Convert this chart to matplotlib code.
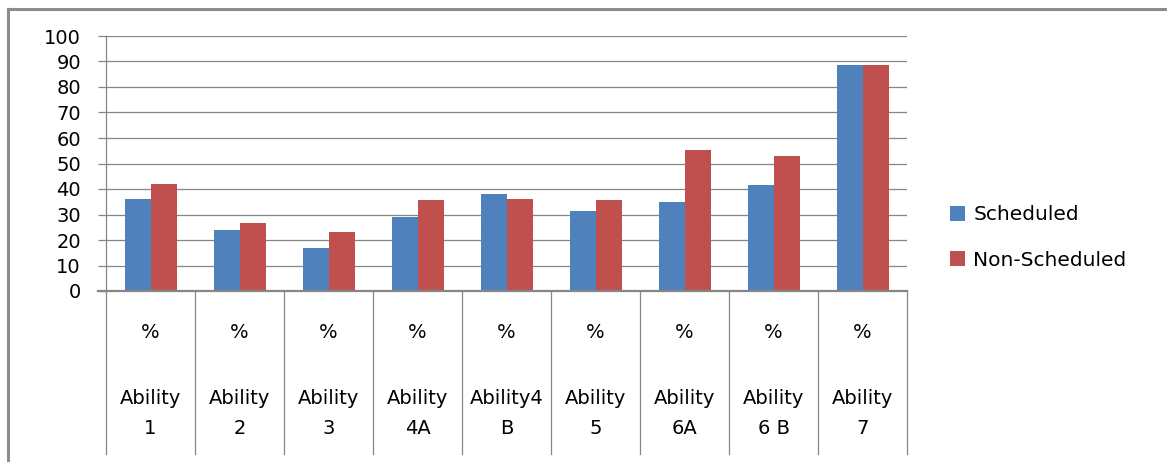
import matplotlib
matplotlib.use("Agg")
import matplotlib.pyplot as plt
from matplotlib.lines import Line2D
from matplotlib.patches import Patch
import numpy as np

plt.rcParams['font.family'] = ['DejaVu Sans']

# Data
categories_top = ["%"] * 9
categories_line1 = ["Ability", "Ability", "Ability", "Ability", "Ability4",
                    "Ability", "Ability", "Ability", "Ability"]
categories_line2 = ["1", "2", "3", "4A", "B", "5", "6A", "6 B", "7"]
scheduled = [36.2, 24.0, 16.7, 29.0, 38.0, 31.5, 35.0, 41.7, 88.6]
non_scheduled = [42.0, 26.8, 23.2, 35.8, 36.2, 35.8, 55.3, 53.0, 88.6]
series_names = ["Scheduled", "Non-Scheduled"]

BLUE = "#4f81bd"
RED = "#c0504d"
GRID = "#868686"
FS = 14

W, H = 1167, 462
fig = plt.figure(figsize=(W / 100, H / 100), dpi=100)

# plot area in pixels: x 106..907, y 36..291
left, right, top, bottom = 106, 907, 36, 291
ax = fig.add_axes([left / W, 1 - bottom / H, (right - left) / W, (bottom - top) / H])

n = len(scheduled)
x = np.arange(n)
bw = 26 / 89
ax.bar(x - bw / 2, scheduled, width=bw, color=BLUE, zorder=3)
ax.bar(x + bw / 2, non_scheduled, width=bw, color=RED, zorder=3)

ax.set_xlim(-0.5, n - 0.5)
ax.set_ylim(0, 100)
ax.set_yticks(np.arange(0, 101, 10))
ax.set_xticks([])

for s in ["top", "right", "bottom"]:
    ax.spines[s].set_visible(False)
ax.spines["left"].set_color(GRID)
ax.spines["left"].set_linewidth(0.9)
ax.tick_params(axis="y", length=6, width=0.9, color=GRID, pad=12,
               labelsize=FS, labelcolor="black", direction="out")
for v in np.arange(10, 101, 10):
    ax.axhline(v, color=GRID, lw=0.9, zorder=1)
# baseline extends left over the tick
ax.plot([-0.5 - 8 / 89, n - 0.5], [0, 0], color=GRID, lw=1.6, clip_on=False, zorder=4)

# category divider lines below the axis
depth = (454 - bottom) / (bottom - top)
for b in np.arange(-0.5, n, 1.0):
    ax.plot([b, b], [0, -depth], transform=ax.get_xaxis_transform(),
            color=GRID, lw=0.9, clip_on=False)

# category labels
tr = ax.get_xaxis_transform()
def yfrac(py):
    return (bottom - py) / (bottom - top)
for i in range(n):
    ax.text(i, yfrac(332), categories_top[i], transform=tr, ha="center", va="center", fontsize=FS)
    ax.text(i, yfrac(398), categories_line1[i], transform=tr, ha="center", va="center", fontsize=FS)
    ax.text(i, yfrac(428), categories_line2[i], transform=tr, ha="center", va="center", fontsize=FS)

# legend
handles = [Patch(facecolor=BLUE, edgecolor="none"), Patch(facecolor=RED, edgecolor="none")]
fig.legend(handles, series_names, loc="center left",
           bbox_to_anchor=(950 / W, 1 - 237.5 / H), frameon=False,
           fontsize=14.5, borderpad=0, borderaxespad=0,
           handlelength=0.75, handleheight=0.75, handletextpad=0.4,
           labelspacing=1.3)

# outer chart frame (left and top edges)
fig.add_artist(Line2D([7.5 / W, 7.5 / W], [0, 1 - 9 / H], color="#8c8c8c", lw=2.2,
                      transform=fig.transFigure))
fig.add_artist(Line2D([7.5 / W, 1], [1 - 9 / H, 1 - 9 / H], color="#8c8c8c", lw=2.2,
                      transform=fig.transFigure))

fig.savefig("out.png", dpi=100)
